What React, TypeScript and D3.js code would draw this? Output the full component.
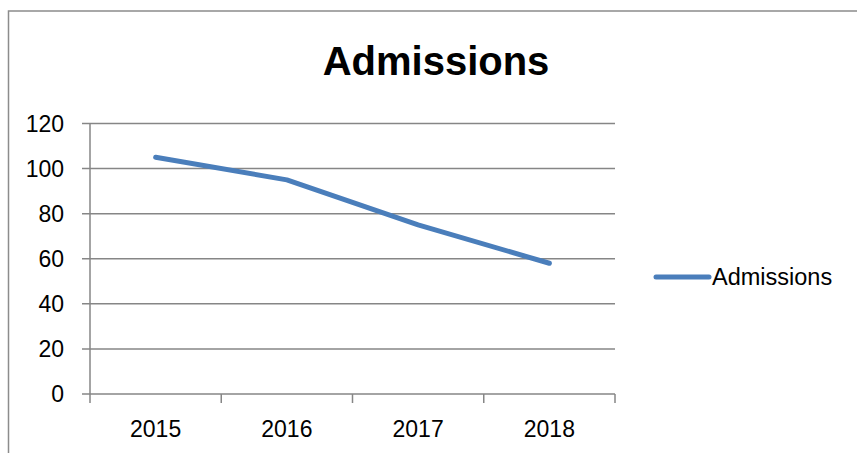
import React from 'react';
import * as d3 from 'd3';

const years = ['2015', '2016', '2017', '2018'];
const admissions = [105, 95, 75, 58];
const yTicks = [0, 20, 40, 60, 80, 100, 120];
const seriesName = 'Admissions';
const chartTitle = 'Admissions';

const width = 857;
const height = 453;
const plotLeft = 90;
const plotRight = 615;
const plotTop = 123.5;
const plotBottom = 394;

const font = '"Liberation Sans", Arial, sans-serif';
const lineColor = '#4a7ebb';
const gridColor = '#868686';

const App: React.FC = () => {
  const x = d3.scaleBand<string>().domain(years).range([plotLeft, plotRight]);
  const y = d3.scaleLinear().domain([0, 120]).range([plotBottom, plotTop]);

  const line = d3.line<number>()
    .x((_, i) => (x(years[i]) || 0) + x.bandwidth() / 2)
    .y(d => y(d));

  // category boundaries for tick marks
  const bounds = years.map(c => x(c) || 0).concat([plotRight]);

  return (
    <svg
      width={width}
      height={height}
      style={{ position: 'absolute', left: 0, top: 0, background: '#fff' }}
    >
      {/* outer chart border */}
      <rect x={8.5} y={11} width={width + 20} height={height + 20} fill="none" stroke="#8c8c8c" strokeWidth={1.5} />

      <text x={436} y={75} textAnchor="middle" fontFamily={font} fontWeight="bold" fontSize={40} fill="#000">
        {chartTitle}
      </text>

      {/* gridlines + y ticks */}
      {yTicks.map(t => (
        <g key={t}>
          <line x1={plotLeft - 8} x2={plotRight} y1={y(t)} y2={y(t)} stroke={gridColor} strokeWidth={1.5} />
          <text x={64} y={y(t) + 8} textAnchor="end" fontFamily={font} fontSize={23} fill="#000">{t}</text>
        </g>
      ))}

      {/* y axis */}
      <line x1={plotLeft} x2={plotLeft} y1={plotTop} y2={plotBottom} stroke={gridColor} strokeWidth={1.5} />

      {/* x ticks */}
      {bounds.map((b, i) => (
        <line key={i} x1={b} x2={b} y1={plotBottom} y2={plotBottom + 9} stroke={gridColor} strokeWidth={1.5} />
      ))}
      {years.map(c => (
        <text key={c} x={(x(c) || 0) + x.bandwidth() / 2} y={437} textAnchor="middle" fontFamily={font} fontSize={23} fill="#000">
          {c}
        </text>
      ))}

      <path d={line(admissions) || ''} fill="none" stroke={lineColor} strokeWidth={5} strokeLinecap="round" strokeLinejoin="round" />

      {/* legend */}
      <line x1={656} x2={709} y1={277} y2={277} stroke={lineColor} strokeWidth={5} strokeLinecap="round" />
      <text x={712} y={285} fontFamily={font} fontSize={23.5} fill="#000">{seriesName}</text>
    </svg>
  );
};

export default App;
